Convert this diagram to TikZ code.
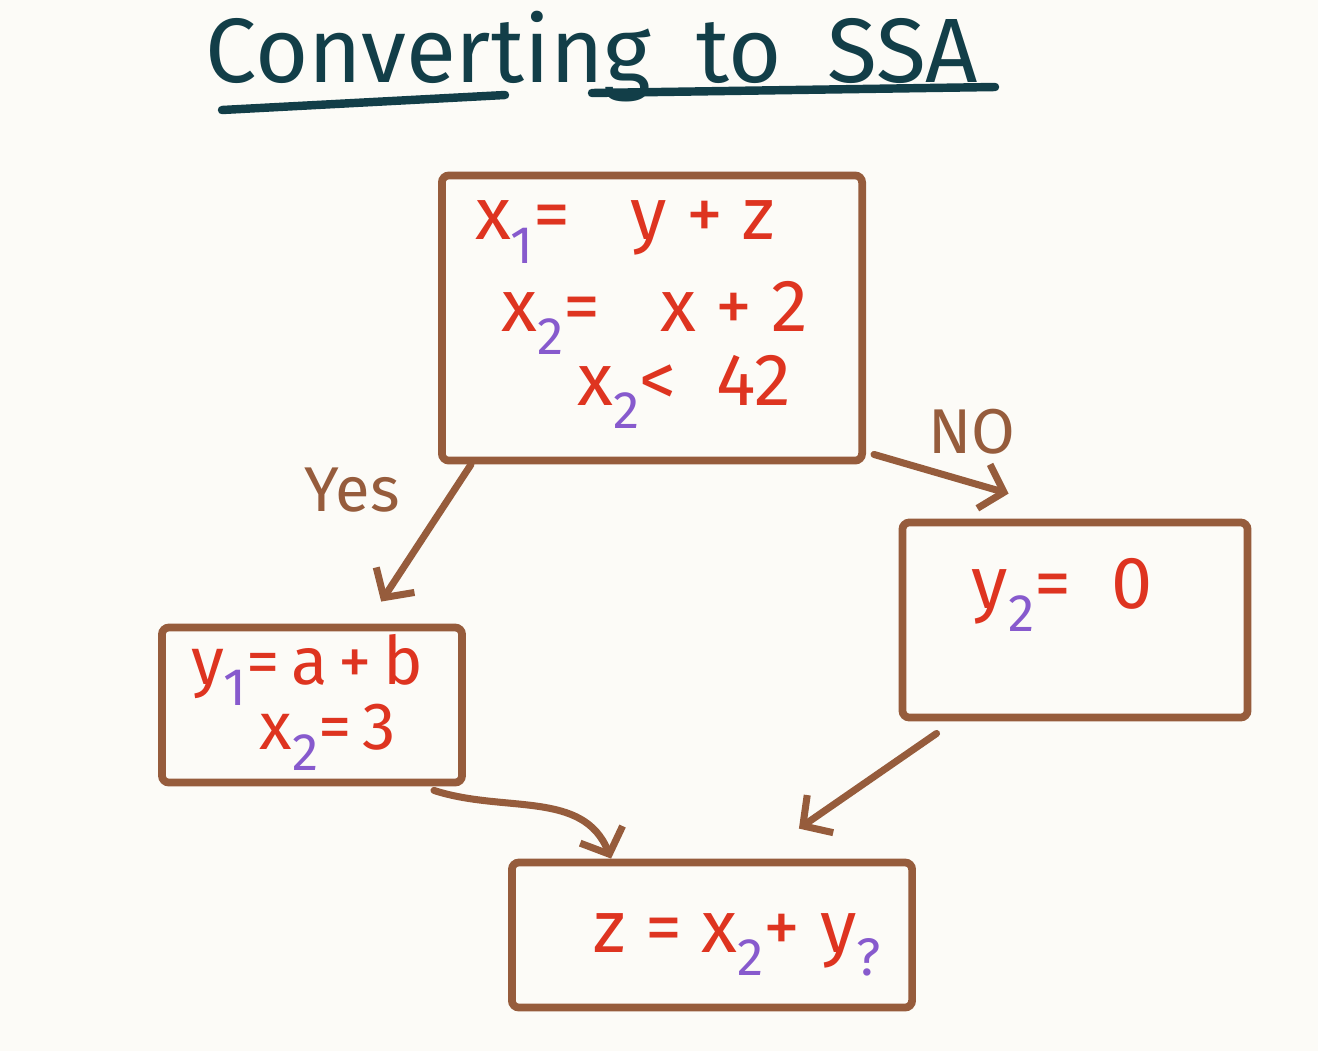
\documentclass[tikz,border=0pt]{standalone}
\usepackage{fontspec}
\setmainfont{Fira Sans}
\usetikzlibrary{arrows.meta,positioning}
\definecolor{inkbrown}{RGB}{150,92,60}
\definecolor{inkred}{RGB}{222,52,32}
\definecolor{inkpurple}{RGB}{135,90,205}
\definecolor{inkteal}{RGB}{18,62,72}
\definecolor{paper}{RGB}{252,251,247}
\newcommand{\lowsub}[1]{\raisebox{-0.6ex}{\color{inkpurple}\fontsize{15}{15}\selectfont #1}}

\begin{document}
\begin{tikzpicture}[x=0.01cm,y=-0.01cm,
    blk/.style={draw=inkbrown, line width=2.2pt, rounded corners=2pt},
    expr/.style={text=inkred, font=\fontsize{21}{23}\selectfont, inner sep=0pt},
    flow/.style={draw=inkbrown, line width=2pt, line cap=round,
                 -{Straight Barb[length=6pt,width=13pt,line width=2pt]}},
    answer/.style={text=inkbrown, font=\fontsize{18}{20}\selectfont}]
    % paper
    \fill[paper] (0,0) rectangle (1318,1051);
    \useasboundingbox (0,0) rectangle (1318,1051);
    % title
    \node[text=inkteal, font=\fontsize{26}{28}\selectfont, anchor=base] (title) at (592,82) {Converting\enspace to\enspace SSA};
    \draw[inkteal, line width=2.4pt, line cap=round] (222,110) -- (505,95);
    \draw[inkteal, line width=2.4pt, line cap=round] (592,93) -- (995,87);
    % blocks
    \node[blk, minimum width=4.2cm, minimum height=2.85cm] (top) at (652,318) {};
    \node[blk, minimum width=3.0cm, minimum height=1.55cm] (left) at (312,705) {};
    \node[blk, minimum width=3.45cm, minimum height=1.95cm] (right) at (1075,620) {};
    \node[blk, minimum width=4.0cm, minimum height=1.45cm] (bottom) at (712,935) {};
    % code
    \node[expr] (t1) at (625,232) {x\lowsub{1}= \; y + z};
    \node[expr] (t2) at (655,318) {x\lowsub{2}= \; x + 2};
    \node[expr] (t3) at (684,392) {x\lowsub{2}<\; 42};
    \node[expr, font=\fontsize{19}{21}\selectfont] (l1) at (307,670) {y\lowsub{1}=\,a\,+\,b};
    \node[expr, font=\fontsize{19}{21}\selectfont] (l2) at (328,737) {x\lowsub{2}=\,3};
    \node[expr] (r1) at (1062,595) {y\lowsub{2}=\; 0};
    \node[expr] (b1) at (737,945) {z = x\lowsub{2}+ y\lowsub{?}};
    % edges
    \draw[flow] ([xshift=0.33cm]top.south west) -- ([xshift=2.23cm,yshift=0.22cm]left.north west);
    \draw[flow] ([xshift=0.08cm,yshift=0.1cm]top.south east) -- ([xshift=1.1cm,yshift=0.25cm]right.north west);
    \draw[flow] ([xshift=-0.32cm,yshift=-0.04cm]left.south east) to[out=-18,in=112] ([xshift=1.03cm,yshift=0.0cm]bottom.north west);
    \draw[flow] ([xshift=0.38cm,yshift=-0.12cm]right.south west) -- ([xshift=-1.17cm,yshift=0.3cm]bottom.north east);
    \node[answer] (yes) at (352,490) {Yes};
    \node[answer] (no) at (972,432) {NO};
\end{tikzpicture}
\end{document}
